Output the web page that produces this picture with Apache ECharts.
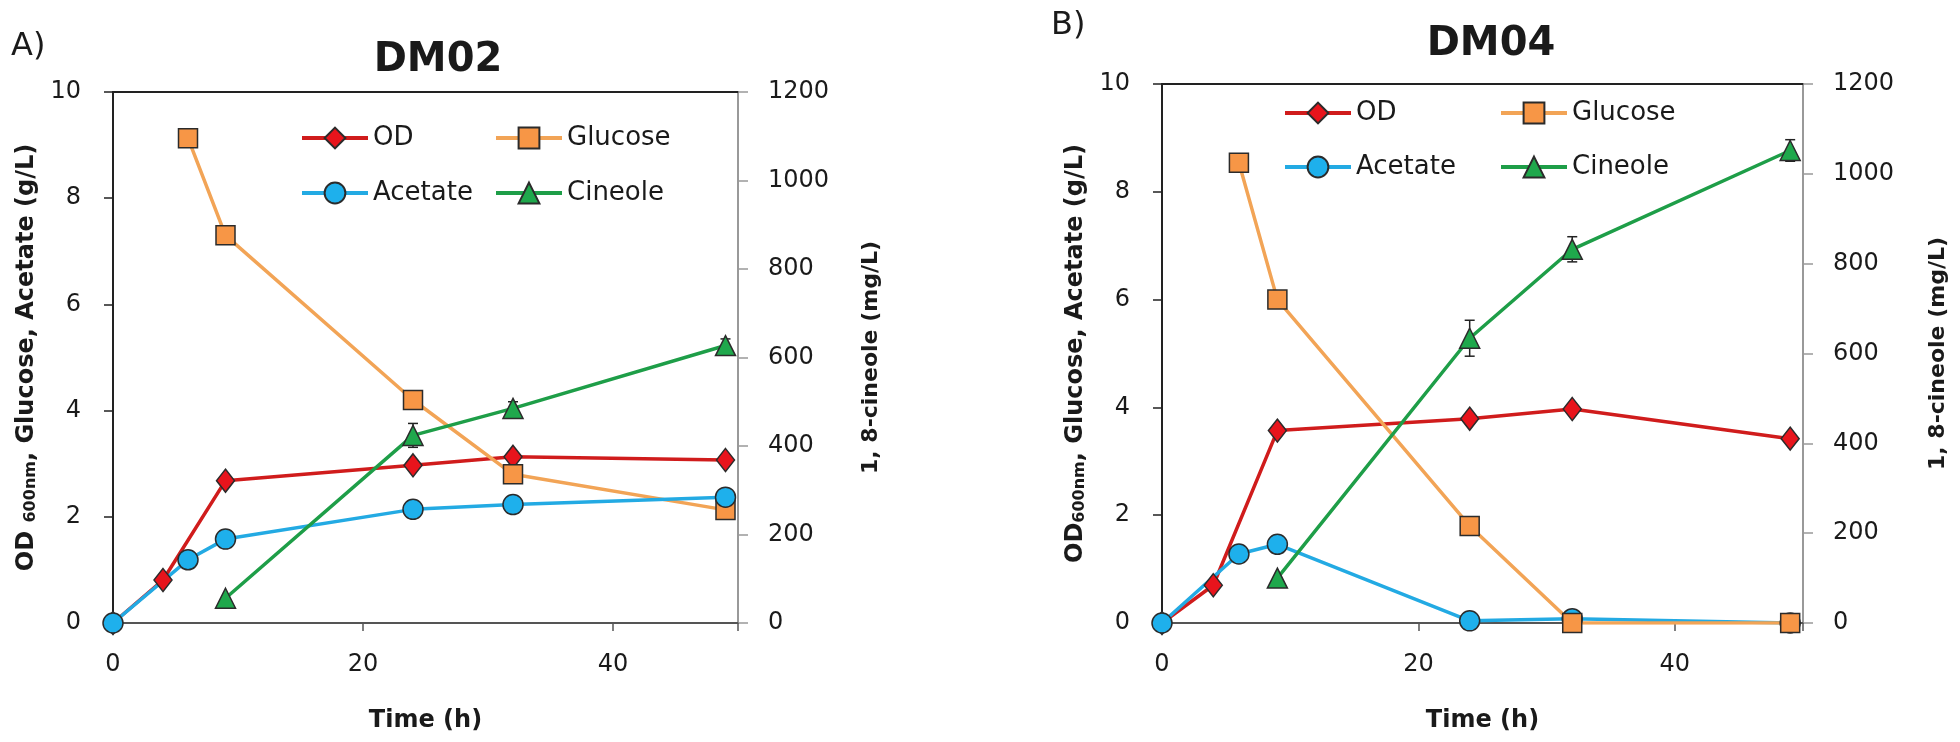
<!DOCTYPE html>
<html>
<head>
<meta charset="utf-8">
<script src="https://cdn.jsdelivr.net/npm/echarts@6/dist/echarts.min.js"></script>
<style>
  html, body { margin: 0; padding: 0; background: #fff; }
  #chart { width: 1960px; height: 742px; }
</style>
</head>
<body>
<div id="chart"></div>
<script>
// time points (h)
var odTime = [0, 4, 9, 24, 32, 49];
var acetateTime = [0, 6, 9, 24, 32, 49];
var glucoseTime = [6, 9, 24, 32, 49];
var cineoleTime = [9, 24, 32, 49];

// DM02 (panel A)
var odA = [0, 0.81, 2.68, 2.97, 3.13, 3.07];
var acetateA = [0, 1.19, 1.58, 2.14, 2.23, 2.37];
var glucoseA = [9.13, 7.3, 4.2, 2.8, 2.13];
var cineoleA = [56, 424, 485, 627];
var cineoleErrA = [0, 27, 15, 15];

// DM04 (panel B)
var odB = [0, 0.70, 3.57, 3.79, 3.97, 3.42];
var acetateB = [0, 1.28, 1.46, 0.04, 0.08, 0];
var glucoseB = [8.54, 6.0, 1.8, 0, 0];
var cineoleB = [100, 634, 832, 1052];
var cineoleErrB = [0, 40, 28, 24];

var leftTicks = [0, 2, 4, 6, 8, 10];
var rightTicks = [0, 200, 400, 600, 800, 1000, 1200];
var timeTicks = [0, 20, 40];

var FONT = 'DejaVu Sans';
var TXT = '#1a1a1a';

function pairs(t, v) {
  return t.map(function (x, i) { return [x, v[i]]; });
}

function errData(t, v, e) {
  return t.map(function (x, i) { return [x, v[i], e[i]]; });
}

var grids = [
  { left: 113, top: 92, width: 625, height: 531 },
  { left: 1162, top: 84, width: 641, height: 539 }
];

function bottomX(g) {
  return {
    type: 'value', gridIndex: g, position: 'bottom', min: 0, max: 50, interval: 20,
    name: 'Time (h)', nameLocation: 'middle', nameGap: 86,
    nameTextStyle: { fontFamily: FONT, fontWeight: 'bold', fontSize: 24, color: TXT },
    axisLine: { onZero: false, lineStyle: { color: '#555', width: 2 } },
    axisTick: { inside: false, length: 8, lineStyle: { color: '#555', width: 1.5 } },
    axisLabel: {
      fontFamily: FONT, fontSize: 24, color: TXT, margin: 30,
      formatter: function (v) { return timeTicks.indexOf(v) >= 0 ? String(v) : ''; }
    },
    splitLine: { show: false }
  };
}

function topX(g) {
  return {
    type: 'value', gridIndex: g, position: 'top', min: 0, max: 50,
    axisLine: { onZero: false, lineStyle: { color: '#222', width: 2 } },
    axisTick: { show: false }, axisLabel: { show: false }, splitLine: { show: false }
  };
}

function leftY(g, name) {
  return {
    type: 'value', gridIndex: g, position: 'left',
    min: leftTicks[0], max: leftTicks[leftTicks.length - 1], interval: 2,
    name: name, nameLocation: 'middle', nameRotate: 90, nameGap: 74,
    nameTextStyle: {
      rich: {
        b: { fontFamily: FONT, fontWeight: 'bold', fontSize: 24, color: TXT },
        s: { fontFamily: FONT, fontWeight: 'bold', fontSize: 16, color: TXT, verticalAlign: 'bottom', padding: [8, 0, 0, 0] }
      }
    },
    axisLine: { show: true, onZero: false, lineStyle: { color: '#222', width: 2 } },
    axisTick: { show: true, length: 9, lineStyle: { color: '#222', width: 1.5 } },
    axisLabel: {
      fontFamily: FONT, fontSize: 24, color: TXT, margin: 32,
      formatter: function (v) { return leftTicks.indexOf(v) >= 0 ? String(v) : ''; }
    },
    splitLine: { show: false }
  };
}

function rightY(g, gap) {
  return {
    type: 'value', gridIndex: g, position: 'right',
    min: rightTicks[0], max: rightTicks[rightTicks.length - 1], interval: 200,
    name: '1, 8-cineole (mg/L)', nameLocation: 'middle', nameRotate: 90, nameGap: gap,
    nameTextStyle: { fontFamily: FONT, fontWeight: 'bold', fontSize: 22, color: TXT },
    axisLine: { show: true, onZero: false, lineStyle: { color: '#999', width: 2 } },
    axisTick: { show: true, length: 10, lineStyle: { color: '#999', width: 1.5 } },
    axisLabel: {
      fontFamily: FONT, fontSize: 24, color: TXT, margin: 30,
      formatter: function (v) { return rightTicks.indexOf(v) >= 0 ? String(v) : ''; }
    },
    splitLine: { show: false }
  };
}

var styles = {
  OD: { line: '#d01c1c', fill: '#e8141c', symbol: 'diamond', size: [18, 23] },
  Glucose: { line: '#f2a456', fill: '#f79646', symbol: 'rect', size: 19 },
  Acetate: { line: '#23aae3', fill: '#1eb0ec', symbol: 'circle', size: 20 },
  Cineole: { line: '#1e9e48', fill: '#1fa84c', symbol: 'triangle', size: 20 }
};

function lineSeries(name, g, yIdx, data) {
  var s = styles[name];
  return {
    name: name, type: 'line', xAxisIndex: g * 2, yAxisIndex: yIdx,
    data: data, smooth: false,
    symbol: s.symbol, symbolSize: s.size,
    lineStyle: { color: s.line, width: 3.5 },
    itemStyle: { color: s.fill, borderColor: '#2b2b2b', borderWidth: 1.5 },
    z: 3
  };
}

function errSeries(g, yIdx, data) {
  return {
    type: 'custom', xAxisIndex: g * 2, yAxisIndex: yIdx, data: data, z: 2,
    encode: { x: 0, y: 1 },
    renderItem: function (params, api) {
      var x = api.value(0), y = api.value(1), e = api.value(2);
      if (!e) return null;
      var hi = api.coord([x, y + e]);
      var lo = api.coord([x, y - e]);
      var w = 5;
      var st = { stroke: '#222', lineWidth: 1.5 };
      return {
        type: 'group',
        children: [
          { type: 'line', shape: { x1: hi[0], y1: hi[1], x2: lo[0], y2: lo[1] }, style: st },
          { type: 'line', shape: { x1: hi[0] - w, y1: hi[1], x2: hi[0] + w, y2: hi[1] }, style: st },
          { type: 'line', shape: { x1: lo[0] - w, y1: lo[1], x2: lo[0] + w, y2: lo[1] }, style: st }
        ]
      };
    }
  };
}

function legendItem(name, left, top) {
  return {
    data: [name], left: left, top: top, orient: 'horizontal', padding: 0,
    itemWidth: 66, itemHeight: 26, selectedMode: false,
    lineStyle: { width: 4 },
    textStyle: { fontFamily: FONT, fontSize: 26, color: TXT }
  };
}

var myChart = echarts.init(document.getElementById('chart'));
var option = {
  animation: false,
  backgroundColor: '#fff',
  title: [
    { text: 'A)', left: 6, top: 26, textStyle: { fontFamily: FONT, fontWeight: 'normal', fontSize: 32, color: TXT } },
    { text: 'DM02', left: 433, top: 36, textAlign: 'center', textStyle: { fontFamily: FONT, fontWeight: 'bold', fontSize: 40, color: TXT } },
    { text: 'B)', left: 1046, top: 5, textStyle: { fontFamily: FONT, fontWeight: 'normal', fontSize: 32, color: TXT } },
    { text: 'DM04', left: 1486, top: 20, textAlign: 'center', textStyle: { fontFamily: FONT, fontWeight: 'bold', fontSize: 40, color: TXT } }
  ],
  legend: [
    legendItem('OD', 300, 125),
    legendItem('Glucose', 494, 125),
    legendItem('Acetate', 300, 180),
    legendItem('Cineole', 494, 180),
    legendItem('OD', 1283, 100),
    legendItem('Glucose', 1499, 100),
    legendItem('Acetate', 1283, 154),
    legendItem('Cineole', 1499, 154)
  ],
  grid: grids,
  xAxis: [bottomX(0), topX(0), bottomX(1), topX(1)],
  yAxis: [
    leftY(0, '{b|OD }{s|600nm}{b|, Glucose, Acetate (g/L)}'),
    rightY(0, 122),
    leftY(1, '{b|OD}{s|600nm}{b|, Glucose, Acetate (g/L)}'),
    rightY(1, 124)
  ],
  series: [
    lineSeries('OD', 0, 0, pairs(odTime, odA)),
    lineSeries('Glucose', 0, 0, pairs(glucoseTime, glucoseA)),
    lineSeries('Acetate', 0, 0, pairs(acetateTime, acetateA)),
    errSeries(0, 1, errData(cineoleTime, cineoleA, cineoleErrA)),
    lineSeries('Cineole', 0, 1, pairs(cineoleTime, cineoleA)),
    lineSeries('OD', 1, 2, pairs(odTime, odB)),
    lineSeries('Acetate', 1, 2, pairs(acetateTime, acetateB)),
    lineSeries('Glucose', 1, 2, pairs(glucoseTime, glucoseB)),
    errSeries(1, 3, errData(cineoleTime, cineoleB, cineoleErrB)),
    lineSeries('Cineole', 1, 3, pairs(cineoleTime, cineoleB))
  ]
};
myChart.setOption(option);
</script>
</body>
</html>
